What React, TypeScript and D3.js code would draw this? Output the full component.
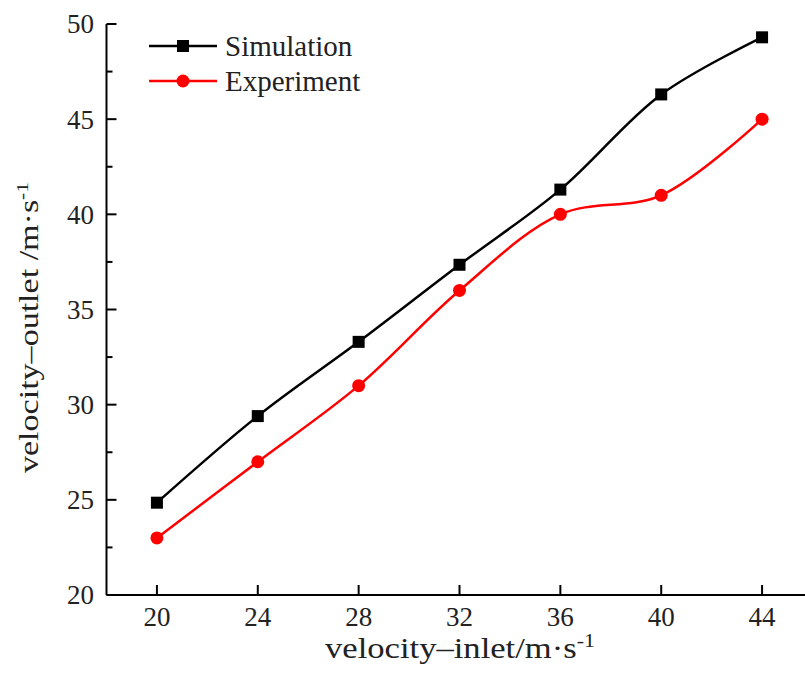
import React from "react";
import * as d3 from "d3";

const inletVelocity = [20, 24, 28, 32, 36, 40, 44];
const simulation = [24.85, 29.4, 33.3, 37.35, 41.3, 46.3, 49.3];
const experiment = [23, 27, 31, 36, 40, 41, 45];
const xTicks = [20, 24, 28, 32, 36, 40, 44];
const yTicks = [20, 25, 30, 35, 40, 45, 50];
const yMinorTicks = [22.5, 27.5, 32.5, 37.5, 42.5, 47.5];

const W = 805;
const H = 675;
const FONT = "'Liberation Serif', 'Times New Roman', serif";

export default function App() {
  const x = d3.scaleLinear().domain([18, 46]).range([106.5, 812.5]);
  const y = d3.scaleLinear().domain([20, 50]).range([595, 24]);

  const line = d3
    .line<number>()
    .x((_, i) => x(inletVelocity[i]))
    .y((d) => y(d))
    .curve(d3.curveCatmullRom.alpha(0.5));

  const series = [
    { name: "Simulation", values: simulation, color: "#000", marker: "square" },
    { name: "Experiment", values: experiment, color: "#ff0000", marker: "circle" },
  ];

  const marker = (type: string, cx: number, cy: number, color: string, key?: any) =>
    type === "square" ? (
      <rect key={key} x={cx - 6} y={cy - 6} width={12} height={12} fill={color} />
    ) : (
      <circle key={key} cx={cx} cy={cy} r={6.5} fill={color} />
    );

  return (
    <svg
      width={W}
      height={H}
      style={{ position: "absolute", left: 0, top: 0, background: "#fff" }}
      fontFamily={FONT}
    >
      {/* axes */}
      <line x1={x(18)} x2={W} y1={y(20)} y2={y(20)} stroke="#000" strokeWidth={2} />
      <line x1={x(18)} x2={x(18)} y1={y(20)} y2={y(50)} stroke="#000" strokeWidth={2} />
      {xTicks.map((t) => (
        <g key={"xt" + t}>
          <line x1={x(t)} x2={x(t)} y1={y(20)} y2={y(20) - 10} stroke="#000" strokeWidth={2} />
          <text x={x(t)} y={626} textAnchor="middle" fontSize={27} fill="#222">
            {t}
          </text>
        </g>
      ))}
      {yTicks.map((t) => (
        <g key={"yt" + t}>
          <line x1={x(18)} x2={x(18) + 10} y1={y(t)} y2={y(t)} stroke="#000" strokeWidth={2} />
          <text x={94} y={y(t)} dy="0.35em" textAnchor="end" fontSize={27} fill="#222">
            {t}
          </text>
        </g>
      ))}
      {yMinorTicks.map((t) => (
        <line key={"ym" + t} x1={x(18)} x2={x(18) + 6} y1={y(t)} y2={y(t)} stroke="#000" strokeWidth={2} />
      ))}

      {/* axis titles */}
      <text
        x={325}
        y={658}
        fontSize={30}
        fill="#222"
        textLength={270}
        lengthAdjust="spacingAndGlyphs"
      >
        velocity–inlet/m·s
        <tspan dy={-11} fontSize={19}>-1</tspan>
      </text>
      <text
        transform={`translate(38, 473) rotate(-90)`}
        fontSize={27}
        fill="#222"
        textLength={291}
        lengthAdjust="spacingAndGlyphs"
      >
        velocity–outlet /m·s
        <tspan dy={-10} fontSize={17}>-1</tspan>
      </text>

      {/* series */}
      {series.map((s) => (
        <g key={s.name}>
          <path d={line(s.values) || ""} fill="none" stroke={s.color} strokeWidth={2.5} />
          {s.values.map((v, i) => marker(s.marker, x(inletVelocity[i]), y(v), s.color, i))}
        </g>
      ))}

      {/* legend */}
      {series.map((s, i) => {
        const ly = 46 + i * 35;
        return (
          <g key={"lg" + s.name}>
            <line x1={149} x2={217} y1={ly} y2={ly} stroke={s.color} strokeWidth={2.5} />
            {marker(s.marker, 183, ly, s.color)}
            <text x={225} y={ly} dy="0.35em" fontSize={29} fill="#222">
              {s.name}
            </text>
          </g>
        );
      })}
    </svg>
  );
}
